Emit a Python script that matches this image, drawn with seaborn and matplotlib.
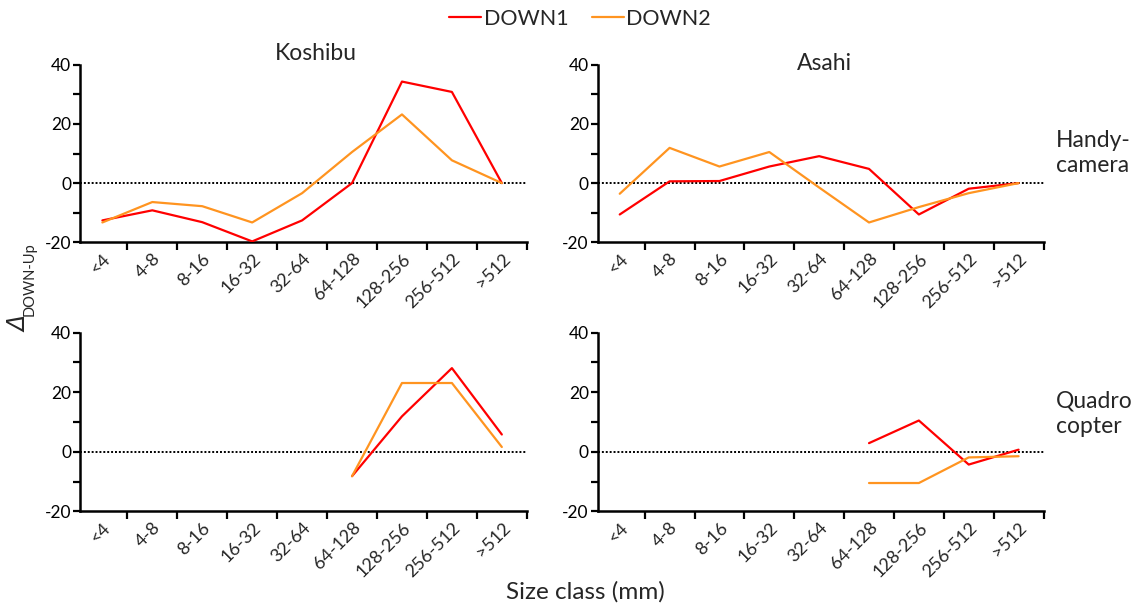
import numpy as np
import pandas as pd
import matplotlib
matplotlib.use("Agg")
import matplotlib.pyplot as plt
import matplotlib.transforms as mtransforms
from matplotlib.lines import Line2D
import seaborn as sns

sns.set_theme(style="ticks")
plt.rcParams["font.family"] = ["Lato", "DejaVu Sans"]

# ---------------- data ----------------
categories = ["<4", "4-8", "8-16", "16-32", "32-64", "64-128", "128-256", "256-512", ">512"]
series_names = ["DOWN1", "DOWN2"]
nan = np.nan

koshibu_handy_down1 = [-12.6, -9.2, -13.2, -19.7, -12.6, 0.0, 34.3, 30.8, 0.0]
koshibu_handy_down2 = [-13.3, -6.4, -7.8, -13.3, -3.4, 10.5, 23.2, 7.7, 0.0]
asahi_handy_down1 = [-10.6, 0.6, 0.7, 5.6, 9.1, 4.8, -10.6, -1.9, 0.0]
asahi_handy_down2 = [-3.6, 11.9, 5.6, 10.5, -1.5, -13.3, -8.1, -3.4, 0.0]
koshibu_quad_down1 = [nan, nan, nan, nan, nan, -8.2, 11.9, 28.1, 5.8]
koshibu_quad_down2 = [nan, nan, nan, nan, nan, -8.2, 23.1, 23.1, 1.6]
asahi_quad_down1 = [nan, nan, nan, nan, nan, 2.9, 10.5, -4.3, 0.7]
asahi_quad_down2 = [nan, nan, nan, nan, nan, -10.5, -10.5, -1.9, -1.5]

site_titles = ["Koshibu", "Asahi"]
row_labels = ["Handy-\ncamera", "Quadro\ncopter"]
y_major = [-20, 0, 20, 40]
y_minor = [-10, 10, 30]

colors = {"DOWN1": "#ff0000", "DOWN2": "#ff9420"}

panels = [
    (koshibu_handy_down1, koshibu_handy_down2),
    (asahi_handy_down1, asahi_handy_down2),
    (koshibu_quad_down1, koshibu_quad_down2),
    (asahi_quad_down1, asahi_quad_down2),
]

W, H = 1144, 608
fig = plt.figure(figsize=(W / 100, H / 100), dpi=100)

def px_rect(x0, x1, ytop, ybot):
    return [x0 / W, 1 - ybot / H, (x1 - x0) / W, (ybot - ytop) / H]

rects = [
    px_rect(80.4, 526.8, 64.7, 242.3),
    px_rect(597.8, 1043.5, 64.7, 242.3),
    px_rect(80.4, 526.8, 332.7, 511.3),
    px_rect(597.8, 1043.5, 332.7, 511.3),
]

label_offset = mtransforms.ScaledTranslation(17 / 100, 0, fig.dpi_scale_trans)

for (d1, d2), rect in zip(panels, rects):
    ax = fig.add_axes(rect)
    n = len(categories)
    df = pd.DataFrame({
        "pos": list(range(n)) * 2,
        "value": list(d1) + list(d2),
        "series": [series_names[0]] * n + [series_names[1]] * n,
    }).dropna()
    ax.axhline(0, color="black", lw=1.4, ls=(0, (1, 1)), zorder=1)
    sns.lineplot(data=df, x="pos", y="value", hue="series", palette=colors,
                 ax=ax, legend=False, lw=1.6, estimator=None, sort=False, zorder=3)
    ax.set_xlim(-0.44, 8.5)
    ax.set_ylim(-20, 40)
    ax.set_xlabel("")
    ax.set_ylabel("")
    # boundary ticks
    ax.set_xticks(np.arange(0.5, n, 1))
    ax.set_xticklabels([])
    ax.set_xticks(range(n), minor=True)
    ax.set_xticklabels(categories, minor=True, rotation=45, ha="right",
                       va="top", rotation_mode="anchor", fontsize=13)
    for lab in ax.get_xticklabels(minor=True):
        lab.set_transform(lab.get_transform() + label_offset)
    ax.tick_params(axis="x", which="minor", length=0, pad=6)
    ax.tick_params(axis="x", which="major", length=5.5, width=1.6, color="black")
    ax.set_yticks(y_major)
    ax.set_yticklabels([str(v) for v in y_major], fontsize=12.5)
    ax.set_yticks(y_minor, minor=True)
    ax.tick_params(axis="y", which="both", length=5, width=1.6, pad=1.5,
                   color="black", labelcolor="black")
    for s in ["top", "right"]:
        ax.spines[s].set_visible(False)
    for s in ["left", "bottom"]:
        ax.spines[s].set_linewidth(1.8)
        ax.spines[s].set_color("black")
    ax.set_facecolor("white")

# titles
fig.text(316 / W, 1 - 53 / H, site_titles[0], ha="center", va="center", fontsize=16.5)
fig.text(824 / W, 1 - 63 / H, site_titles[1], ha="center", va="center", fontsize=16.5)

# row labels
fig.text(1056 / W, 1 - 153 / H, row_labels[0], ha="left", va="center", fontsize=16.5, linespacing=1.25)
fig.text(1056 / W, 1 - 414 / H, row_labels[1], ha="left", va="center", fontsize=16.5, linespacing=1.25)

# y label: italic Delta with subscript
fig.text(19 / W, 1 - 324 / H, "\u0394", rotation=90, ha="center", va="center",
         fontsize=17, fontstyle="italic", family=["DejaVu Sans"])
fig.text(30 / W, 1 - 279 / H, "DOWN-Up", rotation=90, ha="center", va="center",
         fontsize=10.5)

# x label
fig.text(585 / W, 1 - 592 / H, "Size class (mm)", ha="center", va="center", fontsize=17.5)

# legend
handles = [Line2D([], [], color=colors[s], lw=1.6) for s in series_names]
fig.legend(handles, series_names, loc="center", bbox_to_anchor=(580 / W, 1 - 19 / H),
           ncol=2, frameon=False, fontsize=15.5, handlelength=1.5, handletextpad=0.1,
           columnspacing=1.1, borderaxespad=0)

fig.savefig("out.png", dpi=100, facecolor="white")
